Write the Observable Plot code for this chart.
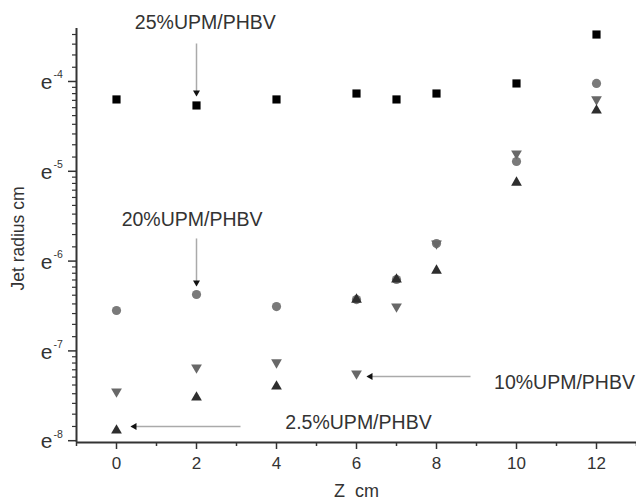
<!DOCTYPE html>
<html>
<head>
<meta charset="utf-8">
<script src="https://cdn.jsdelivr.net/npm/d3@7"></script>
<script src="https://cdn.jsdelivr.net/npm/@observablehq/plot@0.6"></script>
<style>
  html, body { margin: 0; padding: 0; background: #fff; }
</style>
</head>
<body>
<div id="chart"></div>
<script>
// Z positions (cm)
const zCm = [0, 2, 4, 6, 7, 8, 10, 12];
// natural log of jet radius (cm), read from the e^n axis
const ln25 = [-4.200, -4.267, -4.200, -4.134, -4.200, -4.134, -4.022, -3.477];
const ln20 = [-6.550, -6.372, -6.506, -6.428, -6.205, -5.804, -4.891, -4.022];
const ln10 = [-7.452, -7.185, -7.129, -7.252, -6.506, -5.804, -4.802, -4.200];
const ln2_5 = [-7.886, -7.519, -7.396, -6.428, -6.205, -6.105, -5.125, -4.323];

const xMajor = [0, 2, 4, 6, 8, 10, 12];
const xMinor = [-1, 1, 3, 5, 7, 9, 11, 13];
const yMajorExp = [-8, -7, -6, -5, -4];

// annotations: label, text position (x, ln y), arrow start and tip (x, ln y), direction
const annLabels = ["25%UPM/PHBV", "20%UPM/PHBV", "10%UPM/PHBV", "2.5%UPM/PHBV"];
const annTextX = [2.22, 1.89, 11.2, 6.05];
const annTextLn = [-3.41, -5.604, -7.419, -7.875];
const annFromX = [2, 2, 8.85, 3.1];
const annFromLn = [-3.577, -5.748, -7.285, -7.842];
const annToX = [2, 2, 6.275, 0.375];
const annToLn = [-4.156, -6.272, -7.285, -7.842];
const annDir = ["down", "down", "left", "left"];

const E = Math.E;
const yLo = Math.exp(-8.02), yHi = Math.exp(-3.41);

const series = [
  {name: "25%", ln: ln25, symbol: "square", fill: "#000", r: 4.6, rotate: 0},
  {name: "20%", ln: ln20, symbol: "circle", fill: "#7a7a7a", r: 4.6, rotate: 0},
  {name: "10%", ln: ln10, symbol: "triangle", fill: "#686868", r: 4, rotate: 180},
  {name: "2.5%", ln: ln2_5, symbol: "triangle", fill: "#2e2e2e", r: 4, rotate: 0}
];

const yMajor = yMajorExp.map(k => Math.exp(k));
const yMinor = [];
for (let k = -9; k <= -4; k++) {
  for (let j = 1; j <= 9; j++) {
    const v = Math.exp(k) * (1 + j * (E - 1) / 10);
    if (v > yLo && v < yHi) yMinor.push(v);
  }
}

const ann = annLabels.map((label, i) => ({
  label,
  tx: annTextX[i], ty: Math.exp(annTextLn[i]),
  x1: annFromX[i], y1: Math.exp(annFromLn[i]),
  x2: annToX[i], y2: Math.exp(annToLn[i]),
  dir: annDir[i]
}));

const font = "'Liberation Sans', Arial, Helvetica, sans-serif";
const axisColor = "#333";

const marks = [
  Plot.axisX({ticks: xMajor, tickSize: 7, tickPadding: 7, fontSize: 17, color: axisColor, strokeWidth: 1.5, label: null, tickFormat: d => String(d)}),
  Plot.axisX({ticks: xMinor, tickSize: 4, color: axisColor, strokeWidth: 1.5, label: null, tickFormat: () => ""}),
  Plot.axisY({ticks: yMajor, tickSize: 8, color: axisColor, strokeWidth: 1.5, label: null, tickFormat: () => ""}),
  Plot.axisY({ticks: yMinor, tickSize: 4, color: axisColor, strokeWidth: 1.2, label: null, tickFormat: () => ""}),
  Plot.ruleX([-1], {y1: yLo, y2: yHi, stroke: axisColor, strokeWidth: 2}),
  Plot.ruleY([yLo], {x1: -1, x2: 13, stroke: axisColor, strokeWidth: 2}),
  // y tick labels e^n
  Plot.text(yMajor, {x: -1, y: d => d, text: () => "e", textAnchor: "end", dx: -24, dy: 1, fontSize: 21, fill: "#333"}),
  Plot.text(yMajorExp, {x: -1, y: d => Math.exp(d), text: d => String(d), textAnchor: "start", dx: -23, dy: -6.5, fontSize: 10.5, fill: "#333"}),
  // axis labels
  Plot.text(["Z\u00a0 cm"], {frameAnchor: "bottom", textAnchor: "middle", lineAnchor: "middle", dy: 49, fontSize: 18, fill: "#333"}),
  Plot.text(["Jet radius cm"], {frameAnchor: "left", textAnchor: "middle", lineAnchor: "middle", rotate: -90, dx: -58, dy: 3, fontSize: 17.5, fill: "#333"}),
  // annotation arrows
  Plot.link(ann, {x1: "x1", y1: "y1", x2: "x2", y2: "y2", stroke: "#aaa", strokeWidth: 1.5}),
  Plot.dot(ann.filter(d => d.dir === "down"), {x: "x2", y: "y2", symbol: "triangle", rotate: 180, r: 2.6, dy: -3, fill: "#111"}),
  Plot.dot(ann.filter(d => d.dir === "left"), {x: "x2", y: "y2", symbol: "triangle", rotate: -90, r: 2.6, dx: 3, fill: "#111"}),
  Plot.text(ann, {x: "tx", y: "ty", text: "label", lineAnchor: "bottom", fontSize: 19.5, fill: "#333"})
];

for (const s of series) {
  const data = zCm.map((z, i) => ({z, r: Math.exp(s.ln[i])}));
  marks.push(Plot.dot(data, {x: "z", y: "r", symbol: s.symbol, r: s.r, fill: s.fill, rotate: s.rotate, stroke: "none"}));
}

const chart = Plot.plot({
  width: 636,
  height: 502,
  marginLeft: 76,
  marginRight: 0,
  marginTop: 28,
  marginBottom: 60,
  style: {fontFamily: font, background: "#fff", color: "#333"},
  x: {domain: [-1, 13]},
  y: {type: "log", base: E, domain: [yLo, yHi]},
  marks
});
document.getElementById("chart").appendChild(chart);
</script>
</body>
</html>
